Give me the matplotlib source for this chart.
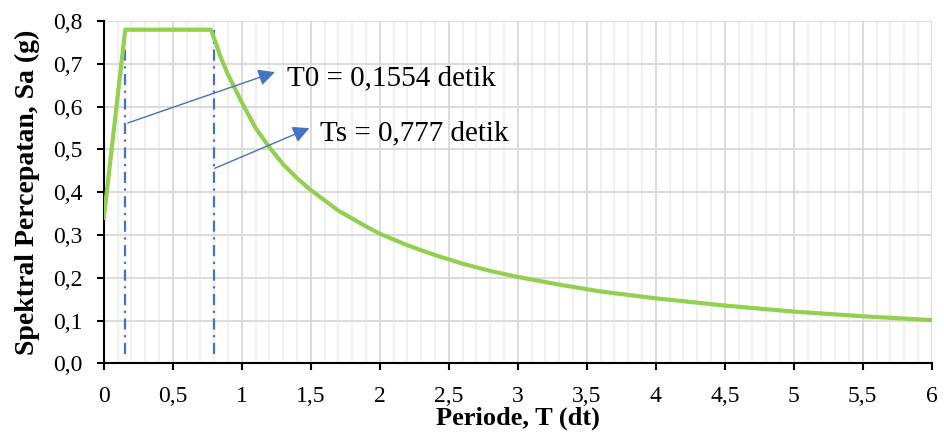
import numpy as np
import matplotlib.pyplot as plt
from matplotlib.ticker import MultipleLocator, FuncFormatter

# spektrum respons
periode = [0, 0.155, 0.777, 0.85, 0.9, 1.0, 1.1, 1.2, 1.3, 1.4, 1.5, 1.7, 1.9,
           2.0, 2.2, 2.4, 2.6, 2.8, 3.0, 3.3, 3.6, 4.0, 4.5, 5.0, 5.5, 6.0]
sa = [0.34, 0.78, 0.78, 0.713, 0.675, 0.61, 0.55, 0.505, 0.465, 0.433, 0.405,
      0.357, 0.32, 0.303, 0.276, 0.253, 0.233, 0.216, 0.202, 0.184, 0.168,
      0.152, 0.135, 0.121, 0.110, 0.101]

garis_x = [0.155, 0.795]
garis_atas = 0.78
garis_bawah = 0.022
label_t0 = "T0 = 0,1554 detik"
label_ts = "Ts = 0,777 detik"

plt.rcParams['font.family'] = ['Liberation Serif', 'DejaVu Serif']

fig = plt.figure(figsize=(9.44, 4.32), dpi=100)
ax = fig.add_axes([0.110, 0.159, 0.877, 0.792])

green = '#92D050'
blue = '#4472C4'

ax.plot(periode, sa, color=green, lw=3, solid_joinstyle='round', zorder=3)

# garis vertikal T0 dan Ts
for t in garis_x:
    ax.plot([t, t], [garis_bawah, garis_atas], color=blue, lw=1.6,
            linestyle=(0, (5, 2.5, 1, 2.5)), zorder=2)

# panah dan keterangan
ax.annotate('', xy=(1.24, 0.681), xytext=(0.174, 0.562),
            arrowprops=dict(arrowstyle='-|>', color=blue, lw=1,
                            mutation_scale=25, shrinkA=0, shrinkB=0))
ax.annotate('', xy=(1.49, 0.55), xytext=(0.804, 0.456),
            arrowprops=dict(arrowstyle='-|>', color=blue, lw=1,
                            mutation_scale=25, shrinkA=0, shrinkB=0))
ax.text(1.33, 0.667, label_t0, fontsize=21, va='center', ha='left')
ax.text(1.565, 0.537, label_ts, fontsize=21, va='center', ha='left')

ax.set_xlim(0, 6)
ax.set_ylim(0, 0.8)
ax.xaxis.set_major_locator(MultipleLocator(0.5))
ax.xaxis.set_minor_locator(MultipleLocator(0.1))
ax.yaxis.set_major_locator(MultipleLocator(0.1))

fmt_x = FuncFormatter(lambda v, p: ('%g' % round(v, 1)).replace('.', ','))
fmt_y = FuncFormatter(lambda v, p: ('%.1f' % v).replace('.', ','))
ax.xaxis.set_major_formatter(fmt_x)
ax.yaxis.set_major_formatter(fmt_y)

ax.grid(which='major', color='#d9d9d9', lw=1.3)
ax.grid(which='minor', axis='x', color='#ececec', lw=1.1)
ax.set_axisbelow(True)

for s in ('top', 'right'):
    ax.spines[s].set_visible(False)
for s in ('left', 'bottom'):
    ax.spines[s].set_linewidth(1.5)
ax.tick_params(which='major', length=5, width=1.5, labelsize=17)
ax.tick_params(axis='y', pad=10.5)
ax.tick_params(axis='x', pad=11)
ax.tick_params(which='minor', length=0)

ax.set_xlabel('Periode, T (dt)', fontsize=19, fontweight='bold', labelpad=0)
ax.set_ylabel('Spektral Percepatan, Sa (g)', fontsize=20, fontweight='bold',
              labelpad=9)

fig.savefig('out.png', dpi=100)
